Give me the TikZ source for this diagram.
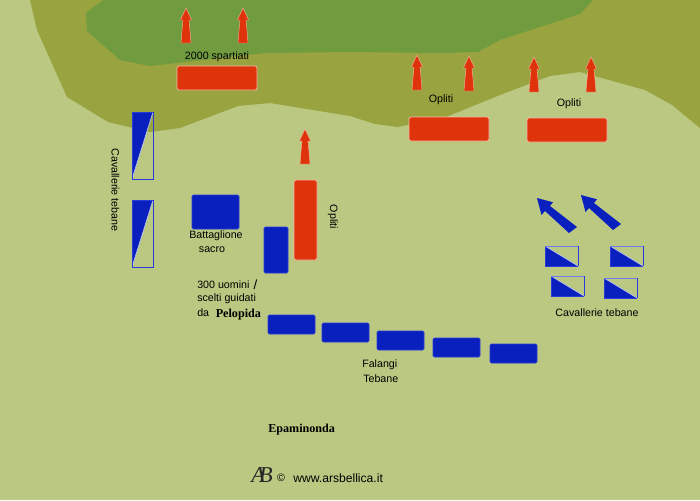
\documentclass[tikz,border=0pt]{standalone}
\usepackage{fontspec}
\setmainfont{Liberation Sans}
\newfontfamily\serifb[BoldFont={Liberation Serif Bold}]{Liberation Serif}
\definecolor{plain}{HTML}{BAC882}
\definecolor{olive}{HTML}{99A440}
\definecolor{hill}{HTML}{719B3F}
\definecolor{redu}{HTML}{DF330C}
\definecolor{blueu}{HTML}{0A20BE}
\definecolor{rededge}{HTML}{F4B8A0}
\definecolor{blueedge}{HTML}{2A3CD8}
\definecolor{paleblue}{HTML}{6C7CE8}
\tikzset{
  redbox/.style={fill=redu,draw=rededge,line width=0.6pt,rounded corners=1.5pt},
  bluebox/.style={fill=blueu,draw=blueedge,line width=0.6pt,rounded corners=1pt},
  redarrow/.style={fill=redu,draw=rededge,line width=0.3pt},
  bluearrow/.style={fill=blueu,draw=none},
  cavframe/.style={draw=blueedge,line width=0.75pt},
  cavfill/.style={fill=blueu},
  lab/.style={font=\fontsize{8}{9.5}\selectfont,inner sep=0pt,text=black},
  labl/.style={lab,anchor=west},
  boldlab/.style={font=\fontsize{9.1}{10.5}\selectfont\serifb\bfseries,inner sep=0pt,anchor=west},
  uparrow/.pic={\path[redarrow] (-5,0) -- (-4,-12) -- (-3,-23) -- (-5.6,-23) -- (0,-35) -- (5.6,-23) -- (3,-23) -- (4,-12) -- (5,0) -- cycle;},
  diagarrow/.pic={\path[bluearrow] (0,0) -- (16,4.3) -- (13,8) -- (40,29) -- (32,35) -- (8,13) -- (4.5,17) -- cycle;},
  cavv/.pic={\fill[cavfill] (0,0) -- (21,0) -- (0,67) -- cycle; \draw[white!70!blueedge,line width=0.5pt] (21,0) -- (0,67); \draw[cavframe] (0,0) rectangle (21,67);},
  cavh/.pic={\fill[cavfill] (0,0) -- (33,20) -- (0,20) -- cycle; \draw[white!70!blueedge,line width=0.5pt] (0,0) -- (33,20); \draw[cavframe] (33,0) -- (33,20) (0,0) -- (0,20) -- (33,20); \draw[paleblue,line width=0.75pt] (0,0) -- (33,0);}
}
\begin{document}
\begin{tikzpicture}[x=0.75pt,y=-0.75pt]
\useasboundingbox (0,0) rectangle (700,500);
\fill[plain] (0,0) rectangle (700,500);
\fill[olive] (30,0) -- (37,30) -- (67,97) -- (108,122) -- (150,132) -- (180,128) -- (238,106) -- (270,103) -- (350,116) -- (375,124) -- (398,127) -- (446,117) -- (500,95) -- (550,76) -- (580,72) -- (645,90) -- (672,105) -- (700,128) -- (700,0) -- cycle;
\fill[hill] (103,0) -- (86,13) -- (87,31) -- (120,60) -- (150,66) -- (265,53) -- (350,52) -- (440,53) -- (478,52) -- (500,40) -- (580,14) -- (593,0) -- cycle;
% red units
\path[redbox] (177,66) rectangle (257,90);
\path[redbox] (294,180) rectangle (317,260);
\path[redbox] (409,117) rectangle (489,141);
\path[redbox] (527,118) rectangle (607,142);
% red arrows
\foreach \bx/\by in {186/43,243/43,417/90,469/91,534/92,591/92,305/164}
  \pic at (\bx,\by) {uparrow};
% blue arrows
\pic at (537,198) {diagarrow};
\pic at (581,195) {diagarrow};
% cavalry
\pic at (132,112) {cavv};
\pic at (132,200) {cavv};
\pic at (545,246) {cavh};
\pic at (610,246) {cavh};
\pic at (551,276) {cavh};
\pic at (604,278) {cavh};
% blue units
\path[bluebox] (192,195) rectangle (239,229);
\path[bluebox] (264,227) rectangle (288,273);
\path[bluebox] (268,315) rectangle (315,334);
\path[bluebox] (322,323) rectangle (369,342);
\path[bluebox] (377,331) rectangle (424,350);
\path[bluebox] (433,338) rectangle (480,357);
\path[bluebox] (490,344) rectangle (537,363);
% labels
\node[lab] (t1) at (217,56.5) {2000 spartiati};
\node[lab] (t2) at (441,100) {Opliti};
\node[lab] (t3) at (569,104) {Opliti};
\node[lab,rotate=-90] (t4) at (333,217) {Opliti};
\node[lab,rotate=-90] (t5) at (115.5,190) {Cavallerie tebane};
\node[lab] (t6) at (216,235.5) {Battaglione};
\node[lab] (t7) at (212,249.5) {sacro};
\node[labl] (t8) at (197,284.5) {300 uomini};
\node[lab,font=\fontsize{10}{11}\selectfont] (t9) at (255.5,284.5) {/};
\node[labl] (t10) at (197,298.5) {scelti guidati};
\node[labl] (t11) at (197,312.5) {da};
\node[boldlab] (t12) at (215.5,314.5) {Pelopida};
\node[labl] (t13) at (362,364.5) {Falangi};
\node[labl] (t14) at (363,378.5) {Tebane};
\node[boldlab] (t15) at (268,429.5) {Epaminonda};
\node[lab] (t16) at (597,312.5) {Cavallerie tebane};
\node[inner sep=0pt,font=\fontsize{17}{17}\selectfont\serifb\itshape,text=black!85] (t17) at (262,475) {A\kern-0.28em B};
\node[lab] (t18) at (281,478) {©};
\node[labl,font=\fontsize{9.1}{10.5}\selectfont] (t19) at (293,478) {www.arsbellica.it};
\end{tikzpicture}
\end{document}
